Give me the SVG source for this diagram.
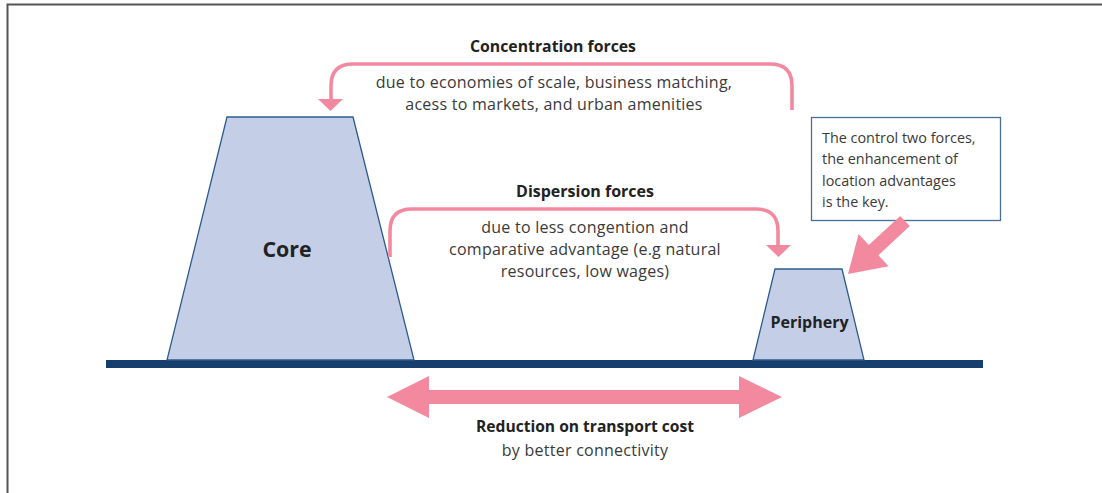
<svg xmlns="http://www.w3.org/2000/svg" width="1102" height="493" viewBox="0 0 1102 493">
<style>
.frame{stroke:#555;stroke-width:2;fill:none}
.land{fill:#c4cfe7;stroke:#2d5b8c;stroke-width:1.3}
.ground{fill:#163f6e}
.pink{fill:#f3899f}
.flow{fill:none;stroke:#f3899f;stroke-width:3.6}
.t{font-family:"Open Sans","Liberation Sans",sans-serif;fill:#3a3a3a;font-size:16px;letter-spacing:0.25px;text-anchor:middle}
.b{font-family:"Open Sans","Liberation Sans",sans-serif;fill:#222;font-weight:bold;text-anchor:middle}
.note{font-family:"Open Sans","Liberation Sans",sans-serif;fill:#3a3a3a;font-size:14.4px}
</style>
<rect width="1102" height="493" fill="#fff"/>
<path class="frame" d="M7.5,493 V4.5 H1102"/>
<rect class="ground" x="106" y="360" width="877" height="8"/>
<g id="core">
<polygon class="land" points="227,117 353,117 414,360 167,360"/>
<text class="b" x="287" y="257" font-size="21.4">Core</text>
</g>
<g id="periphery">
<polygon class="land" points="775,269 842,269 864,360 753,360"/>
<text class="b" x="809.5" y="328" font-size="16">Periphery</text>
</g>
<g id="note">
<rect x="811.5" y="117.5" width="189" height="103" fill="#fff" stroke="#4a6f96" stroke-width="1.3"/>
<text class="note" x="822" y="143">The control two forces,</text>
<text class="note" x="822" y="164">the enhancement of</text>
<text class="note" x="822" y="186">location advantages</text>
<text class="note" x="822" y="207">is the key.</text>
</g>
<g id="connectors">
<path class="flow" d="M792,110 V86 Q792,64 770,64 H353 Q331,64 331,86 V100"/>
<polygon class="pink" points="318,99 343,99 330.5,111"/>
<path class="flow" d="M390,257 V231 Q390,209 412,209 H756 Q778,209 778,231 V246"/>
<polygon class="pink" points="766,245 791,245 778.5,257"/>
<polygon class="pink" points="848,274 858.6,234.1 868.8,245.1 900.2,215.9 909.8,226.1 878.4,255.3 888.6,266.3"/>
<polygon class="pink" points="387,397 429,376 429,390 739,390 739,376 782,397 739,418 739,404 429,404 429,418"/>
</g>
<g id="labels">
<text class="b" x="553" y="52" font-size="15.8">Concentration forces</text>
<text class="t" x="554" y="88">due to economies of scale, business matching,</text>
<text class="t" x="554" y="110">acess to markets, and urban amenities</text>
<text class="b" x="585" y="197" font-size="16">Dispersion forces</text>
<text class="t" x="585" y="233">due to less congention and</text>
<text class="t" x="585" y="255">comparative advantage (e.g natural</text>
<text class="t" x="585" y="277">resources, low wages)</text>
<text class="b" x="585" y="432" font-size="15.6">Reduction on transport cost</text>
<text class="t" x="585" y="456">by better connectivity</text>
</g>
</svg>
